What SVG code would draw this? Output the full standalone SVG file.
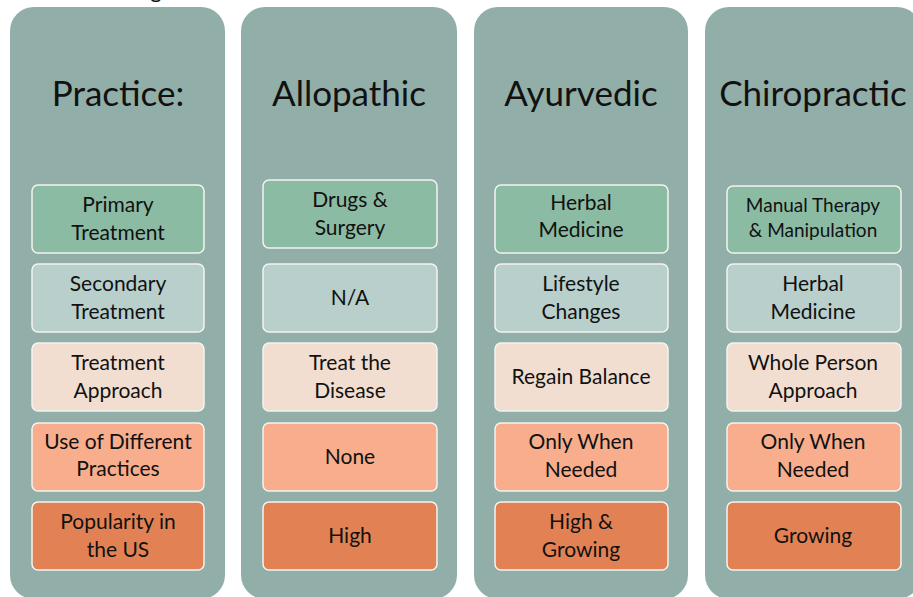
<svg xmlns="http://www.w3.org/2000/svg" width="913" height="597" viewBox="0 0 913 597">
<style>
.panel{fill:#91AEA8}
.box{stroke:#F4F4F0;stroke-width:1.5}
.b1{fill:#8CBBA4}.b2{fill:#B8CFCB}.b3{fill:#F2DED0}.b4{fill:#F8AD8C}.b5{fill:#E28254}
.hd{font-family:Lato,"Liberation Sans",sans-serif;font-size:35px;fill:#111;text-anchor:middle}
.tx{font-family:Lato,"Liberation Sans",sans-serif;font-size:21px;fill:#111;text-anchor:middle}
</style>
<rect width="913" height="597" fill="#FFFFFF"/>
<text x="156" y="-2" style="font-family:Lato,sans-serif;font-size:22px;fill:#111" text-anchor="middle">g</text>
<g id="col-practice">
<rect class="panel" x="10" y="7" width="215" height="592" rx="24"/>
<text class="hd" x="118" y="106">Practice:</text>
<g id="p1"><rect class="box b1" x="32" y="185" width="172" height="68" rx="6"/><text class="tx" x="118" y="212">Primary</text><text class="tx" x="118" y="240">Treatment</text></g>
<g id="p2"><rect class="box b2" x="32" y="264" width="172" height="68" rx="6"/><text class="tx" x="118" y="291">Secondary</text><text class="tx" x="118" y="319">Treatment</text></g>
<g id="p3"><rect class="box b3" x="32" y="343" width="172" height="68" rx="6"/><text class="tx" x="118" y="370">Treatment</text><text class="tx" x="118" y="398">Approach</text></g>
<g id="p4"><rect class="box b4" x="32" y="423" width="172" height="68" rx="6"/><text class="tx" x="118" y="449">Use of Different</text><text class="tx" x="118" y="476">Practices</text></g>
<g id="p5"><rect class="box b5" x="32" y="502" width="172" height="68" rx="6"/><text class="tx" x="118" y="529">Popularity in</text><text class="tx" x="118" y="557">the US</text></g>
</g>
<g id="col-allopathic">
<rect class="panel" x="241" y="7" width="216" height="592" rx="24"/>
<text class="hd" x="349" y="106">Allopathic</text>
<g id="a1"><rect class="box b1" x="263" y="180" width="174" height="68" rx="6"/><text class="tx" x="350" y="207">Drugs &amp;</text><text class="tx" x="350" y="235">Surgery</text></g>
<g id="a2"><rect class="box b2" x="263" y="264" width="174" height="68" rx="6"/><text class="tx" x="350" y="305">N/A</text></g>
<g id="a3"><rect class="box b3" x="263" y="343" width="174" height="68" rx="6"/><text class="tx" x="350" y="370">Treat the</text><text class="tx" x="350" y="398">Disease</text></g>
<g id="a4"><rect class="box b4" x="263" y="423" width="174" height="68" rx="6"/><text class="tx" x="350" y="464">None</text></g>
<g id="a5"><rect class="box b5" x="263" y="502" width="174" height="68" rx="6"/><text class="tx" x="350" y="543">High</text></g>
</g>
<g id="col-ayurvedic">
<rect class="panel" x="474" y="7" width="214" height="592" rx="24"/>
<text class="hd" x="581" y="106">Ayurvedic</text>
<g id="y1"><rect class="box b1" x="495" y="185" width="173" height="68" rx="6"/><text class="tx" x="581" y="210">Herbal</text><text class="tx" x="581" y="237">Medicine</text></g>
<g id="y2"><rect class="box b2" x="495" y="264" width="173" height="68" rx="6"/><text class="tx" x="581" y="291">Lifestyle</text><text class="tx" x="581" y="319">Changes</text></g>
<g id="y3"><rect class="box b3" x="495" y="343" width="173" height="68" rx="6"/><text class="tx" x="581" y="384">Regain Balance</text></g>
<g id="y4"><rect class="box b4" x="495" y="423" width="173" height="68" rx="6"/><text class="tx" x="581" y="449">Only When</text><text class="tx" x="581" y="477">Needed</text></g>
<g id="y5"><rect class="box b5" x="495" y="502" width="173" height="68" rx="6"/><text class="tx" x="581" y="529">High &amp;</text><text class="tx" x="581" y="557">Growing</text></g>
</g>
<g id="col-chiropractic">
<rect class="panel" x="705" y="7" width="216" height="592" rx="24"/>
<text class="hd" x="813" y="106">Chiropractic</text>
<g id="c1"><rect class="box b1" x="727" y="186" width="174" height="67" rx="6"/><text class="tx" x="813" y="212" style="font-size:19px">Manual Therapy</text><text class="tx" x="813" y="237" style="font-size:19px">&amp; Manipulation</text></g>
<g id="c2"><rect class="box b2" x="727" y="264" width="174" height="68" rx="6"/><text class="tx" x="813" y="291">Herbal</text><text class="tx" x="813" y="319">Medicine</text></g>
<g id="c3"><rect class="box b3" x="727" y="343" width="174" height="68" rx="6"/><text class="tx" x="813" y="370">Whole Person</text><text class="tx" x="813" y="398">Approach</text></g>
<g id="c4"><rect class="box b4" x="727" y="423" width="174" height="68" rx="6"/><text class="tx" x="813" y="449">Only When</text><text class="tx" x="813" y="477">Needed</text></g>
<g id="c5"><rect class="box b5" x="727" y="502" width="174" height="68" rx="6"/><text class="tx" x="813" y="543">Growing</text></g>
</g>
<g id="connectors"/>
</svg>
